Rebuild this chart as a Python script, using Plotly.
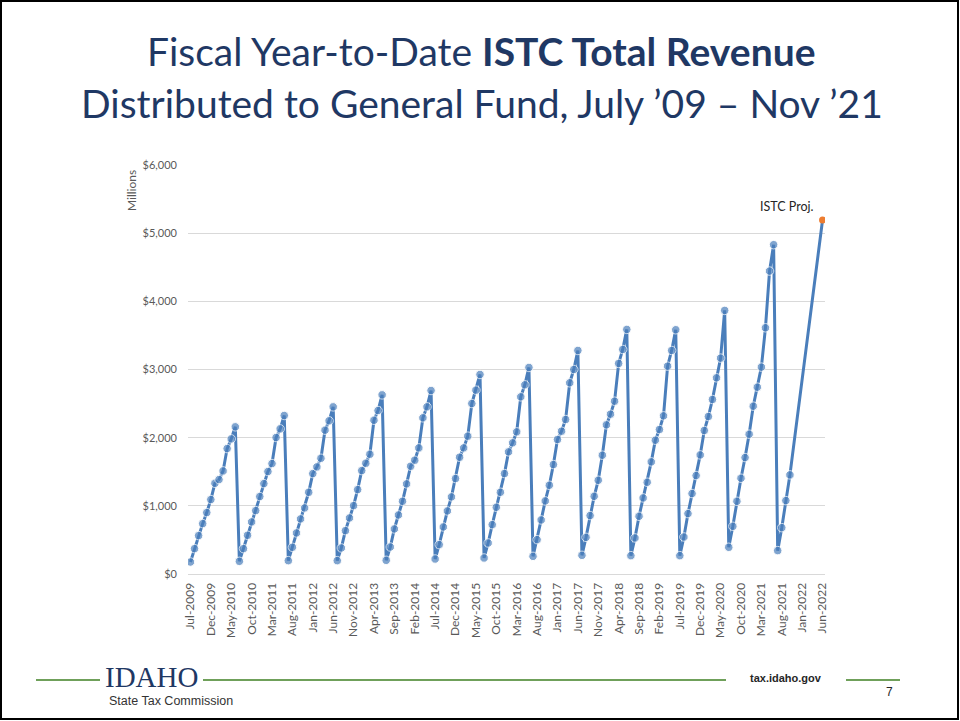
import pandas as pd
import plotly.graph_objects as go

# Fiscal-year-to-date revenue, $ millions (Jul..Jun of each fiscal year)
fy2010 = [176, 372, 563, 739, 901, 1092, 1331, 1385, 1512, 1840, 1982, 2159]
fy2011 = [186, 372, 568, 764, 930, 1136, 1326, 1503, 1620, 2002, 2129, 2325]
fy2012 = [196, 392, 602, 808, 969, 1199, 1473, 1571, 1698, 2110, 2247, 2452]
fy2013 = [196, 382, 636, 822, 1003, 1238, 1517, 1625, 1757, 2256, 2398, 2628]
fy2014 = [201, 396, 661, 866, 1067, 1322, 1581, 1669, 1850, 2291, 2452, 2692]
fy2015 = [220, 431, 690, 925, 1131, 1400, 1713, 1850, 2022, 2501, 2697, 2927]
fy2016 = [235, 455, 724, 979, 1199, 1473, 1792, 1924, 2085, 2599, 2775, 3030]
fy2017 = [259, 504, 793, 1072, 1302, 1605, 1973, 2095, 2266, 2805, 3000, 3279]
fy2018 = [274, 538, 857, 1140, 1375, 1743, 2188, 2345, 2535, 3089, 3294, 3588]
fy2019 = [269, 529, 847, 1116, 1346, 1645, 1963, 2119, 2320, 3049, 3279, 3583]
fy2020 = [269, 543, 886, 1180, 1444, 1747, 2105, 2310, 2560, 2878, 3167, 3867]
fy2021 = [392, 700, 1067, 1405, 1708, 2051, 2462, 2741, 3035, 3612, 4444, 4831]
fy2022 = [343, 680, 1077, 1454]
istc_proj = 5193          # projection for Jun-2022
proj_label = "ISTC Proj."

tick_labels = ["Jul-2009", "Dec-2009", "May-2010", "Oct-2010", "Mar-2011", "Aug-2011",
               "Jan-2012", "Jun-2012", "Nov-2012", "Apr-2013", "Sep-2013", "Feb-2014",
               "Jul-2014", "Dec-2014", "May-2015", "Oct-2015", "Mar-2016", "Aug-2016",
               "Jan-2017", "Jun-2017", "Nov-2017", "Apr-2018", "Sep-2018", "Feb-2019",
               "Jul-2019", "Dec-2019", "May-2020", "Oct-2020", "Mar-2021", "Aug-2021",
               "Jan-2022", "Jun-2022"]
y_ticks = [0, 1000, 2000, 3000, 4000, 5000, 6000]
y_tick_labels = ["$0", "$1,000", "$2,000", "$3,000", "$4,000", "$5,000", "$6,000"]

months = list(pd.date_range("2009-07-01", "2022-06-01", freq="MS").strftime("%b-%Y"))
actual = (fy2010 + fy2011 + fy2012 + fy2013 + fy2014 + fy2015 + fy2016 + fy2017 +
          fy2018 + fy2019 + fy2020 + fy2021 + fy2022)
n_gap = len(months) - len(actual) - 1
blue_y = actual + [None] * n_gap + [istc_proj]
marker_sizes = [8.5] * (len(months) - 1) + [0]

W, H = 960, 721
L, R, T, B = 188, 825, 165, 574   # plot area in pixels


def px(x):
    return (x - L) / (R - L)


def py(y):
    return (B - y) / (B - T)


BLUE = "#4A7EBB"
NAVY = "#1F3864"
GRAY = "#595959"

fig = go.Figure()
fig.add_trace(go.Scatter(
    x=months, y=blue_y, mode="lines+markers", connectgaps=True,
    line=dict(color=BLUE, width=3),
    marker=dict(color=BLUE, size=marker_sizes),
    hoverinfo="x+y", showlegend=False))
fig.add_trace(go.Scatter(
    x=[months[-1]], y=[istc_proj], mode="markers",
    marker=dict(color="#ED7D31", size=7),
    showlegend=False))

fig.update_layout(
    width=W, height=H,
    margin=dict(l=L, r=W - R, t=T, b=H - B, pad=0),
    paper_bgcolor="white", plot_bgcolor="white",
    font=dict(family="Lato, 'Open Sans', sans-serif", color=GRAY),
    xaxis=dict(type="category", range=[-0.6, len(months) - 0.4],
               tickmode="array", tickvals=tick_labels, ticktext=tick_labels,
               tickangle=-90, tickfont=dict(size=12, color=GRAY),
               showgrid=False, showline=True, linecolor="#D9D9D9", linewidth=1,
               ticks="", ticklen=0, zeroline=False, ticklabelstandoff=3),
    yaxis=dict(range=[0, 6000], tickmode="array", tickvals=y_ticks,
               ticktext=y_tick_labels, tickfont=dict(size=11, color=GRAY),
               showgrid=True, gridcolor="#D9D9D9", gridwidth=1,
               zeroline=False, showline=False, ticks="", ticklen=0,
               ticklabelstandoff=10),
)

ann = []
ann.append(dict(text="Fiscal Year-to-Date <b>ISTC Total Revenue</b>",
                x=px(481), y=py(51), xref="paper", yref="paper",
                showarrow=False, font=dict(size=39, color=NAVY, family="Lato"),
                xanchor="center", yanchor="middle"))
ann.append(dict(text="Distributed to General Fund, July \u201909 \u2013 Nov \u201921",
                x=px(482), y=py(103), xref="paper", yref="paper",
                showarrow=False, font=dict(size=39, color=NAVY, family="Lato"),
                xanchor="center", yanchor="middle"))
ann.append(dict(text="Millions", x=px(132), y=py(191), xref="paper", yref="paper",
                textangle=-90, showarrow=False, font=dict(size=12, color=GRAY),
                xanchor="center", yanchor="middle"))
ann.append(dict(text=proj_label, x=months[-1], y=istc_proj, xref="x", yref="y",
                showarrow=False, xanchor="right", yanchor="bottom", xshift=-7, yshift=4,
                font=dict(size=12.5, color="#262626")))
ann.append(dict(text="IDAHO", x=px(103), y=py(677),
                xref="paper", yref="paper", showarrow=False, xanchor="left",
                yanchor="middle",
                font=dict(size=29, color=NAVY, family="Liberation Serif")))
ann.append(dict(text="State Tax Commission", x=px(107), y=py(701), xref="paper",
                yref="paper", showarrow=False, xanchor="left", yanchor="middle",
                font=dict(size=12.5, color="#333333", family="Liberation Sans Narrow, Liberation Sans")))
ann.append(dict(text="<b>tax.idaho.gov</b>", x=px(786), y=py(678), xref="paper",
                yref="paper", showarrow=False, xanchor="center", yanchor="middle",
                font=dict(size=11, color="#262626", family="Liberation Sans Narrow, Liberation Sans")))
ann.append(dict(text="7", x=px(889), y=py(692), xref="paper", yref="paper",
                showarrow=False, xanchor="center", yanchor="middle",
                font=dict(size=12, color="#262626", family="Liberation Sans")))
fig.update_layout(annotations=ann)

shapes = []
GREEN = "#6FA05A"
for x0, x1 in [(36, 100), (203, 726), (846, 900)]:
    shapes.append(dict(type="line", xref="paper", yref="paper",
                       x0=px(x0), x1=px(x1), y0=py(680), y1=py(680),
                       line=dict(color=GREEN, width=2)))
shapes.append(dict(type="rect", xref="paper", yref="paper",
                   x0=px(1), x1=px(958), y0=py(1), y1=py(719),
                   line=dict(color="black", width=2), fillcolor="rgba(0,0,0,0)"))
fig.update_layout(shapes=shapes)

fig.write_html(
    "out.html",
    config={"displayModeBar": False},
    post_script="document.body.style.margin='0px';document.body.style.overflow='hidden';",
)
